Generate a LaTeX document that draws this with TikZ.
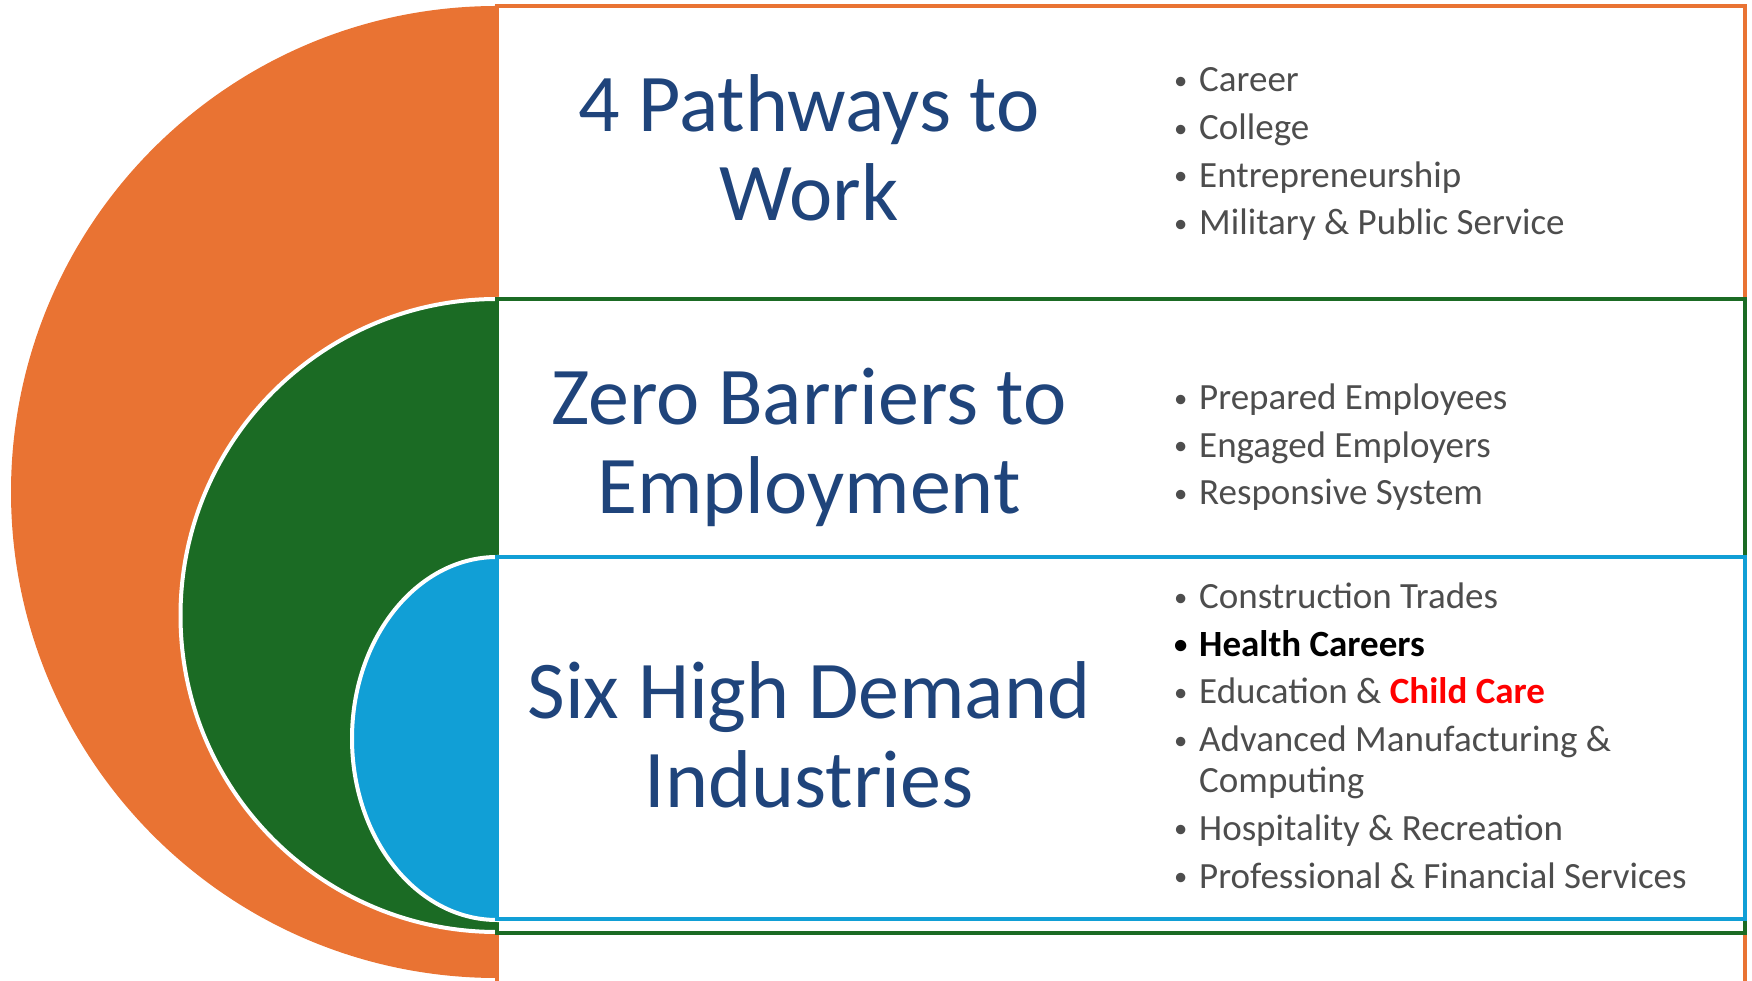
\documentclass[tikz,border=0pt]{standalone}
\usepackage{fontspec}
\setmainfont{Carlito}
\usepackage{xcolor}
\usepackage{graphicx}

\definecolor{ringorange}{RGB}{233,115,51}
\definecolor{ringgreen}{RGB}{27,107,36}
\definecolor{ringblue}{RGB}{17,159,214}
\definecolor{headblue}{RGB}{31,68,123}
\definecolor{itemgray}{RGB}{77,77,77}

\tikzset{
  frame/.style={line width=3.5pt},
  halo/.style={draw=white, line width=4pt},
  headline/.style={font=\fontsize{82}{89}\selectfont, text=headblue, align=center, anchor=base, inner sep=0pt},
  items/.style={font=\fontsize{37}{47.7}\selectfont, text=itemgray, align=left, anchor=base west, inner sep=0pt}
}
\newcommand{\itm}[1]{\makebox[25pt][l]{\raisebox{2.5pt}{\scalebox{0.72}{\textbullet}}}#1}

\begin{document}
\begin{tikzpicture}[x=1pt,y=1pt]
  \useasboundingbox (0,0) rectangle (1752,980);
  \clip (0,0) rectangle (1752,980);
  % Outer band
  \fill[ringorange] (497,974) arc[start angle=90, end angle=270, radius=486] -- cycle;
  \draw[frame, ringorange] (497,974) rectangle (1745,-20);
  % Middle band
  \filldraw[halo, fill=ringgreen] (497,681) arc[start angle=90, end angle=270, radius=316.5] -- cycle;
  \draw[frame, ringgreen] (497,681) rectangle (1745,47);
  % Inner band
  \filldraw[halo, fill=ringblue] (497,423) arc[start angle=90, end angle=270, x radius=145, y radius=181.5] -- cycle;
  \draw[frame, ringblue] (497,423) rectangle (1745,61);
  % Headings (anchored on the last line)
  \node[headline] (pathways) at (809,759) {4 Pathways to\\Work};
  \node[headline] (barriers) at (809,466) {Zero Barriers to\\Employment};
  \node[headline] (industries) at (809,173) {Six High Demand\\Industries};
  % Bullet lists (anchored on the last line)
  \node[items] (pathlist) at (1174,745) {\itm{Career}\\\itm{College}\\\itm{Entrepreneurship}\\\itm{Military \& Public Service}};
  \node[items] (barrierlist) at (1174,475) {\itm{Prepared Employees}\\\itm{Engaged Employers}\\\itm{Responsive System}};
  \node[items] (industrylist) at (1174,92) {\itm{Construction Trades}\\
    {\color{black}\bfseries\itm{Health Careers}}\\
    \itm{Education \& {\bfseries\color{red}Child Care}}\\
    \itm{Advanced Manufacturing \&}\\[-6.7pt]
    \hspace*{25pt}Computing\\
    \itm{Hospitality \& Recreation}\\
    \itm{Professional \& Financial Services}};
\end{tikzpicture}
\end{document}
